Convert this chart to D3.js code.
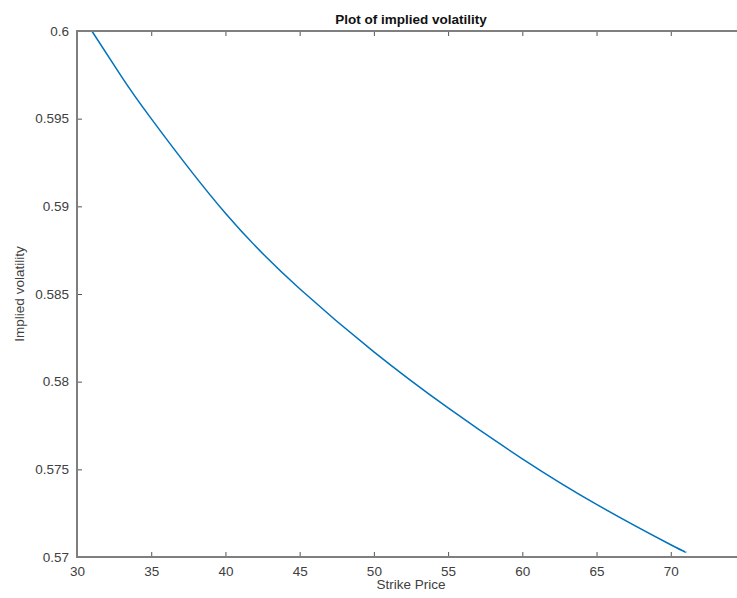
<!DOCTYPE html>
<html>
<head>
<meta charset="utf-8">
<title>Plot of implied volatility</title>
<script src="https://cdn.jsdelivr.net/npm/d3@7"></script>
<style>
  body { margin: 0; background: #fff; overflow: hidden; }
  svg { display: block; font-family: "Liberation Sans", Arial, sans-serif; }
  .tick text { fill: #404040; font-size: 13.5px; }
  .frame { fill: none; stroke: #7f7f7f; stroke-width: 2; }
</style>
</head>
<body>
<script>
// values
var strikes = [31, 33, 35, 40, 45, 50, 55, 60, 65, 70, 71];
var vols = [0.6000, 0.5974, 0.5950, 0.5896, 0.5853, 0.5817, 0.5785, 0.5756, 0.5730, 0.5707, 0.5703];

var xTicks = [30, 35, 40, 45, 50, 55, 60, 65, 70];
var yTicks = [0.57, 0.575, 0.58, 0.585, 0.59, 0.595, 0.6];
var yTickLabels = ["0.57", "0.575", "0.58", "0.585", "0.59", "0.595", "0.6"];

var w = 737, h = 598;
// plot box; the right edge sits just past the window, as in the reference
var mLeft = 77, mRight = 745, mTop = 31, mBottom = 557;

var svg = d3.select("body").append("svg")
    .attr("width", w)
    .attr("height", h);

var x = d3.scaleLinear().domain([30, 75]).range([mLeft, mRight]);
var y = d3.scaleLinear().domain([0.57, 0.6]).range([mBottom, mTop]);

// curve
var line = d3.line()
    .x(function(d, i) { return x(strikes[i]); })
    .y(function(d) { return y(d); })
    .curve(d3.curveNatural);

svg.append("path")
    .datum(vols)
    .attr("d", line)
    .attr("fill", "none")
    .attr("stroke", "#0072bd")
    .attr("stroke-width", 1.5);

// axes, ticks point inward
svg.append("g")
    .attr("transform", "translate(0," + mBottom + ")")
    .call(d3.axisBottom(x).tickValues(xTicks).tickSizeInner(-5).tickSizeOuter(0).tickPadding(9));

svg.append("g")
    .attr("transform", "translate(0," + mTop + ")")
    .call(d3.axisTop(x).tickValues(xTicks).tickSizeInner(-5).tickSizeOuter(0).tickFormat(""));

svg.append("g")
    .attr("transform", "translate(" + mLeft + ",0)")
    .call(d3.axisLeft(y).tickValues(yTicks).tickSizeInner(-5).tickSizeOuter(0).tickPadding(8)
        .tickFormat(function(d, i) { return yTickLabels[i]; }));

svg.selectAll(".domain").remove();
svg.selectAll(".tick line").attr("stroke", "#555").attr("stroke-width", 1);

// box around the plot area
svg.append("rect")
    .attr("class", "frame")
    .attr("x", mLeft)
    .attr("y", mTop)
    .attr("width", mRight - mLeft)
    .attr("height", mBottom - mTop);

// labels
svg.append("text")
    .attr("x", (mLeft + mRight) / 2)
    .attr("y", 24)
    .attr("text-anchor", "middle")
    .style("font-size", "13.5px")
    .style("font-weight", "bold")
    .attr("fill", "#111")
    .text("Plot of implied volatility");

svg.append("text")
    .attr("x", (mLeft + mRight) / 2)
    .attr("y", 589)
    .attr("text-anchor", "middle")
    .style("font-size", "13.5px")
    .attr("fill", "#404040")
    .text("Strike Price");

svg.append("text")
    .attr("transform", "translate(24," + (mTop + mBottom) / 2 + ") rotate(-90)")
    .attr("text-anchor", "middle")
    .style("font-size", "13.5px")
    .attr("fill", "#404040")
    .text("Implied volatility");
</script>
</body>
</html>
